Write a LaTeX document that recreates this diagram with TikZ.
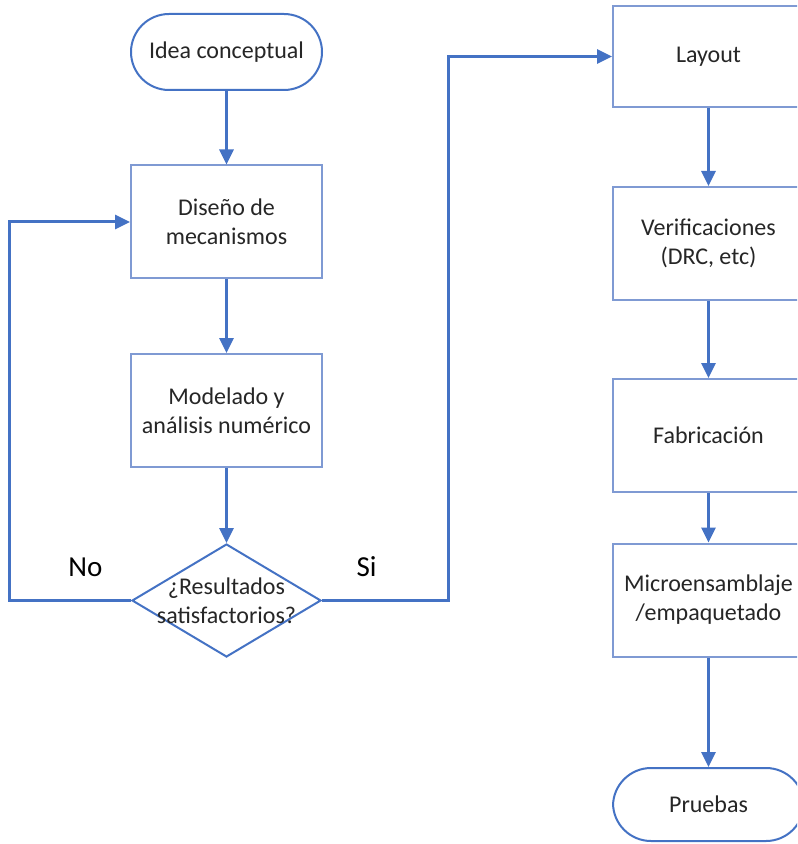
\documentclass[tikz,border=0pt]{standalone}
\usepackage{fontspec}
\setmainfont{Carlito}
\usepackage{tikz}
\usetikzlibrary{arrows.meta,positioning,shapes.geometric}
\definecolor{line}{HTML}{4472C4}
\definecolor{edge}{HTML}{7F9AD3}
\definecolor{ink}{HTML}{262626}
\tikzset{
  box/.style={draw=edge,line width=1pt,fill=white,inner sep=4pt,align=center,
    font=\fontsize{12}{14.5}\selectfont,text=ink,minimum width=95.5pt,minimum height=56.5pt},
  term/.style={box,draw=line,rounded corners=19pt,minimum height=38pt},
  decision/.style={diamond,draw=line,line width=1pt,fill=white,inner sep=0pt,
    minimum width=94.5pt,minimum height=56.5pt},
  dtext/.style={align=center,font=\fontsize{12}{14.5}\selectfont,text=ink,inner sep=0pt},
  flow/.style={-{Triangle[length=7.5pt,width=7pt]},line width=1.5pt,draw=line},
  blabel/.style={font=\fontsize{14.5}{17}\selectfont,text=black},
}
\begin{document}
\begin{tikzpicture}[x=0.5pt,y=-0.5pt]
  \clip (0,0) rectangle (797,844);
  % left column: concept to check
  \node[term](idea) at (226.5,52){Idea conceptual};
  \node[box](dis) at (226.5,222){Diseño de\\mecanismos};
  \node[box](mod) at (226.5,410.5){Modelado y\\análisis numérico};
  \node[decision](chk) at (226.5,600.5){};
  \node[dtext] at (chk){¿Resultados\\satisfactorios?};
  % right column: layout to tests
  \node[box,minimum height=50.5pt](lay) at (708.5,56.5){Layout};
  \node[box](ver) at (708.5,243.5){Verificaciones\\(DRC, etc)};
  \node[box](fab) at (708.5,435.5){Fabricación};
  \node[box](mic) at (708.5,600){Microensamblaje\\/empaquetado};
  \node[term,minimum height=36.5pt](pru) at (708.5,804.5){Pruebas};
  \foreach \x/\y in {idea/dis,dis/mod,mod/chk,lay/ver,ver/fab,fab/mic,mic/pru}
    \draw[flow](\x)--(\y);
  % decision branches
  \draw[flow](chk.west)--++(-122,0)|-(dis.west);
  \draw[flow](chk.east)--++(126,0)|-(lay.west);
  \node[blabel](no) at (85.5,567){No};
  \node[blabel](si) at (366.5,567){Si};
\end{tikzpicture}
\end{document}
